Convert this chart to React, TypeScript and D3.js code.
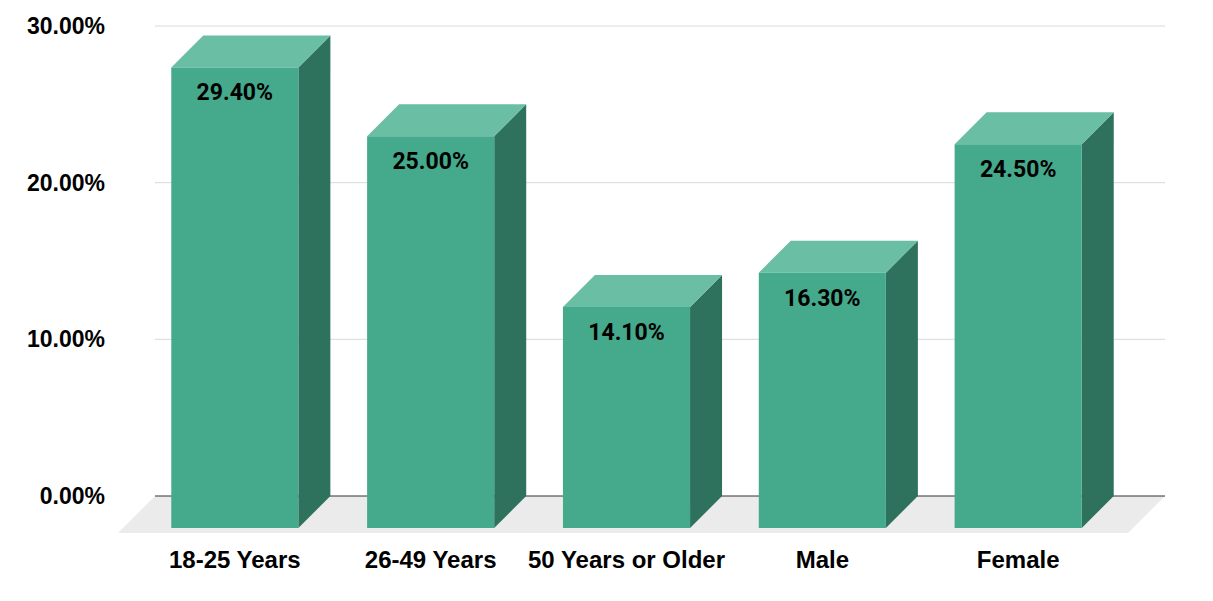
import * as d3 from 'd3';

const categories = ['18-25 Years', '26-49 Years', '50 Years or Older', 'Male', 'Female'];
const values = [29.4, 25.0, 14.1, 16.3, 24.5];
const yTicks = [0, 10, 20, 30];

const W = 1213;
const H = 601;
const depth = 32; // bar depth offset (x right, y up)
const floorDepth = 37;

export default function App() {
  // y scale lives on the back wall
  const y = d3.scaleLinear().domain([0, 30]).range([496, 26]);
  // x scale on the front plane
  const x = d3.scaleBand<string>()
    .domain(categories)
    .range([137, 1116])
    .paddingInner(0.351)
    .paddingOuter(0.175);

  const backLeft = 155;
  const backRight = 1165;
  const base = y(0);

  const floor = [
    [backLeft, base],
    [backRight, base],
    [backRight - floorDepth, base + floorDepth],
    [backLeft - floorDepth, base + floorDepth],
  ].map(p => p.join(',')).join(' ');

  return (
    <div style={{ position: 'fixed', left: 0, top: 0 }}>
      <svg width={W} height={H} style={{ display: 'block', background: '#fff' }}>
        <polygon points={floor} fill="#ebebeb" />
        {yTicks.map(t => (
          <g key={t}>
            {t > 0 && (
              <line x1={backLeft} x2={backRight} y1={y(t)} y2={y(t)} stroke="#d9d9d9" strokeWidth={1} />
            )}
            <text
              x={105}
              y={y(t) + 8}
              textAnchor="end"
              fontFamily="'Liberation Sans', Arial, sans-serif"
              fontWeight="bold"
              fontSize={23}
              fill="#000"
            >
              {t.toFixed(2)}%
            </text>
          </g>
        ))}
        <line x1={backLeft} x2={backRight} y1={base} y2={base} stroke="#333" strokeWidth={1} />
        {categories.map((c, i) => {
          const x0 = x(c)!;
          const x1 = x0 + x.bandwidth();
          const topBack = y(values[i]);
          const topFront = topBack + depth;
          const botFront = base + depth;
          const front = `${x0},${topFront} ${x1},${topFront} ${x1},${botFront} ${x0},${botFront}`;
          const top = `${x0},${topFront} ${x0 + depth},${topBack} ${x1 + depth},${topBack} ${x1},${topFront}`;
          const side = `${x1},${topFront} ${x1 + depth},${topBack} ${x1 + depth},${base} ${x1},${botFront}`;
          const cx = (x0 + x1) / 2;
          return (
            <g key={c}>
              <polygon points={side} fill="#2e725d" />
              <polygon points={top} fill="#6abea3" />
              <polygon points={front} fill="#45aa8b" />
              <text
                x={cx}
                y={topFront + 33}
                textAnchor="middle"
                fontFamily="Roboto, 'Liberation Sans', sans-serif"
                fontWeight="bold"
                fontSize={23}
                fill="#000"
              >
                {values[i].toFixed(2)}%
              </text>
              <text
                x={cx}
                y={568}
                textAnchor="middle"
                fontFamily="'Liberation Sans', Arial, sans-serif"
                fontWeight="bold"
                fontSize={24}
                fill="#000"
              >
                {c}
              </text>
            </g>
          );
        })}
      </svg>
    </div>
  );
}
